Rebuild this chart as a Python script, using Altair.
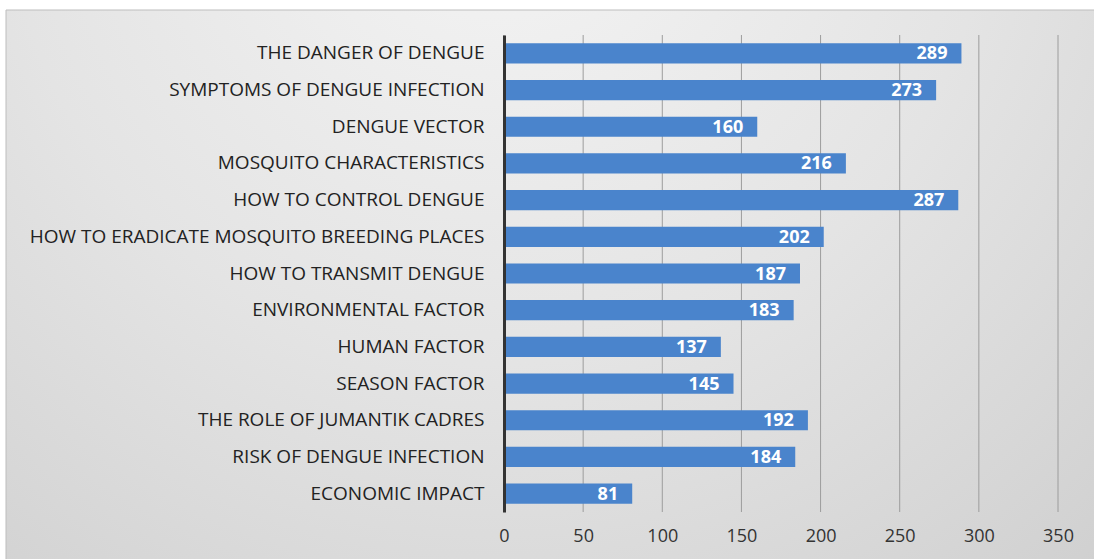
import altair as alt
import pandas as pd

categories = [
    "THE DANGER OF DENGUE ",
    "SYMPTOMS OF DENGUE INFECTION",
    "DENGUE VECTOR",
    "MOSQUITO CHARACTERISTICS",
    "HOW TO CONTROL DENGUE",
    "HOW TO ERADICATE MOSQUITO BREEDING PLACES",
    "HOW TO TRANSMIT DENGUE",
    "ENVIRONMENTAL FACTOR",
    "HUMAN FACTOR ",
    "SEASON FACTOR",
    "THE ROLE OF JUMANTIK CADRES",
    "RISK OF DENGUE INFECTION ",
    "ECONOMIC IMPACT",
]
values = [289, 273, 160, 216, 287, 202, 187, 183, 137, 145, 192, 184, 81]
x_ticks = [0, 50, 100, 150, 200, 250, 300, 350]

df = pd.DataFrame({"topic": categories, "count": values})
grid_df = pd.DataFrame({"v": x_ticks})

W, H = 554, 477
LEFT, TOP = 504, 35

xscale = alt.Scale(domain=[0, 350], nice=False, zero=True)
yscale = alt.Scale(domain=categories, paddingInner=0.45, paddingOuter=0.225)

bg = alt.Chart(pd.DataFrame({"a": [0]})).mark_rect(
    fill=alt.RadialGradient(
        gradient="radial",
        x1=0.45, y1=0.12, r1=0.0,
        x2=0.45, y2=0.12, r2=0.9,
        stops=[
            alt.GradientStop(offset=0, color="#f5f5f5"),
            alt.GradientStop(offset=0.5, color="#e4e4e4"),
            alt.GradientStop(offset=1, color="#cdcdcd"),
        ],
    ),
    stroke="#bdbdbd",
    strokeWidth=1,
    clip=False,
).encode(
    x=alt.value(6 - LEFT),
    x2=alt.value(1094 - LEFT + 5),
    y=alt.value(10 - TOP),
    y2=alt.value(559 - TOP + 5),
)

grid = alt.Chart(grid_df).mark_rule(color="#9c9c9c", strokeWidth=1).encode(
    x=alt.X("v:Q", scale=xscale),
    y=alt.value(0),
    y2=alt.value(H),
)

bars = alt.Chart(df).mark_bar(color="#4a84cc").encode(
    x=alt.X(
        "count:Q",
        scale=xscale,
        axis=alt.Axis(
            values=x_ticks,
            title=None,
            grid=False,
            domain=False,
            ticks=False,
            tickSize=0,
            labelFlush=False,
            labelPadding=15,
            labelFontSize=18,
            labelColor="#333333",
            labelFont="Open Sans",
            zindex=1,
        ),
    ),
    y=alt.Y(
        "topic:N",
        scale=yscale,
        sort=categories,
        axis=alt.Axis(
            title=None,
            ticks=False,
            tickSize=0,
            domain=True,
            domainColor="#333333",
            domainWidth=3,
            labelPadding=20,
            labelFontSize=19,
            labelColor="#222222",
            labelFont="Open Sans",
            labelLimit=600,
            zindex=1,
        ),
    ),
)

labels = alt.Chart(df).mark_text(
    align="right",
    baseline="middle",
    dx=-14,
    dy=1,
    color="white",
    fontSize=18,
    fontWeight="bold",
    font="Open Sans",
).encode(
    x=alt.X("count:Q", scale=xscale),
    y=alt.Y("topic:N", scale=yscale, sort=categories),
    text="count:Q",
)

chart = alt.layer(bg, grid, bars, labels).properties(
    width=W,
    height=H,
    autosize=alt.AutoSizeParams(type="none"),
    padding={"left": LEFT, "top": TOP, "right": 1094 - LEFT - W, "bottom": 559 - TOP - H},
    background="white",
).configure_view(stroke=None)

chart.save("out.html", embed_options={"renderer": "svg", "actions": False})
